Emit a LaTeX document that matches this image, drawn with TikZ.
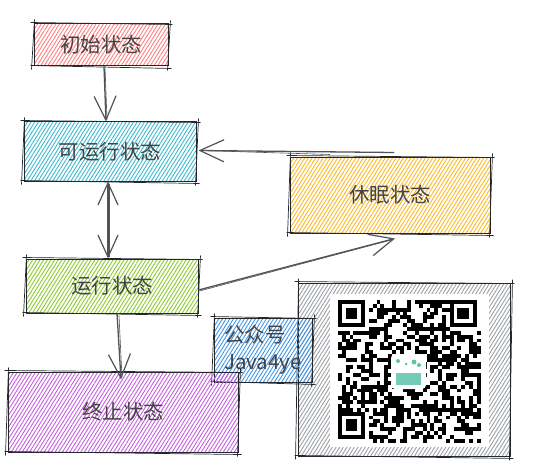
\documentclass[tikz,border=0pt]{standalone}
\usepackage{fontspec}
\setmainfont{Noto Sans CJK SC}
\usetikzlibrary{patterns.meta,arrows.meta}
\definecolor{edgec}{HTML}{24282C}
\definecolor{arrc}{HTML}{505458}
\definecolor{txtc}{HTML}{444444}
\definecolor{pinkh}{HTML}{FF8080}
\definecolor{cyanh}{HTML}{3CB9CF}
\definecolor{yellowh}{HTML}{FBB921}
\definecolor{greenh}{HTML}{8CCB2C}
\definecolor{purpleh}{HTML}{C65EE0}
\definecolor{blueh}{HTML}{3F97EA}
\definecolor{grayh}{HTML}{9CA1A7}
\definecolor{tealc}{HTML}{3BB39A}
\newcommand\roughbox[1]{%
  \draw[roughline] ([shift={(-3,-1)}]#1.north west) -- ([shift={(4,1)}]#1.north east);
  \draw[roughline] ([shift={(2,-3)}]#1.north east) -- ([shift={(-1,4)}]#1.south east);
  \draw[roughline] ([shift={(3,2)}]#1.south east) -- ([shift={(-3,-1)}]#1.south west);
  \draw[roughline] ([shift={(-2,3)}]#1.south west) -- ([shift={(1,-4)}]#1.north west);
}
\begin{document}
\begin{tikzpicture}[x=1pt,y=-1pt,
  sbox/.style={draw=edgec, line width=1pt, rectangle, inner sep=0pt,
    font=\fontsize{20.5}{27}\selectfont, text=txtc},
  hatch/.style={pattern={Lines[angle=58,distance=3.1pt,line width=0.9pt]}, pattern color=#1},
  roughline/.style={draw=edgec, line width=0.7pt},
  arr/.style={draw=arrc, line width=1.3pt, -{Straight Barb[length=24pt,width=22pt,line width=1.2pt]}},
  arrboth/.style={draw=arrc, line width=1.3pt, {Straight Barb[length=22pt,width=20pt,line width=1.2pt]}-{Straight Barb[length=22pt,width=20pt,line width=1.2pt]}}
]
\useasboundingbox[fill=white] (0,0) rectangle (538,476);

% QR frame
\node[sbox, hatch=grayh, minimum width=212pt, minimum height=173pt] (qr) at (404,369.5) {};
\roughbox{qr}
\fill[white] (330,294) rectangle (489,447);
\pgfmathsetseed{11}
\foreach \i in {0,...,36}{\foreach \j in {0,...,36}{%
  \pgfmathtruncatemacro\fz{(\i<8)*(\j<8)+(\i>28)*(\j<8)+(\i<8)*(\j>28)}%
  \pgfmathtruncatemacro\q{rnd<0.5}%
  \ifnum\fz=0 \ifnum\q=1 \fill[black] (338+\i*3.85,300+\j*3.85) rectangle ++(3.9,3.9);\fi\fi
}}
\foreach \ox/\oy in {338/300, 449.65/300, 338/411.65}{
  \fill[black] (\ox,\oy) rectangle ++(26.95,26.95);
  \fill[white] (\ox+3.85,\oy+3.85) rectangle ++(19.25,19.25);
  \fill[black] (\ox+7.7,\oy+7.7) rectangle ++(11.55,11.55);
}
\fill[white, rounded corners=4pt] (391,354) rectangle (426,389);
\fill[tealc!70] (396,373) rectangle (421,385);
\fill[tealc!80] (398,361) circle (2pt);
\fill[tealc!80] (406,364) circle (1.5pt);
\fill[tealc!80] (414,362) circle (2.5pt);
\fill[tealc!80] (419,365) circle (2pt);

% nodes
\node[sbox, hatch=pinkh, minimum width=134pt, minimum height=42pt] (init) at (101,45) {初始状态};
\roughbox{init}
\node[sbox, hatch=cyanh, minimum width=172pt, minimum height=59pt] (runnable) at (110,151.5) {可运行状态};
\roughbox{runnable}
\node[sbox, hatch=yellowh, minimum width=200pt, minimum height=76pt] (sleep) at (390,195) {休眠状态};
\roughbox{sleep}
\node[sbox, hatch=greenh, minimum width=172pt, minimum height=54pt] (run) at (112,286) {运行状态};
\roughbox{run}
\node[sbox, hatch=blueh, minimum width=98pt, minimum height=64pt, align=left] (gzh) at (263,350) {公众号\\Java4ye};
\roughbox{gzh}
\node[sbox, hatch=purpleh, minimum width=230pt, minimum height=80pt] (term) at (123,412) {终止状态};
\roughbox{term}

% connectors
\draw[arr] ([shift={(3,0)}]init.south) -- ([shift={(-4,0)}]runnable.north);
\draw[arrc, line width=0.6pt] ([shift={(4,0)}]init.south) -- ([shift={(-3,-2)}]runnable.north);
\draw[arrboth] ([shift={(-2,0)}]runnable.south) -- ([shift={(-4,0)}]run.north);
\draw[arrc, line width=0.6pt] ([shift={(-1,2)}]runnable.south) -- ([shift={(-3,-2)}]run.north);
\draw[arr] ([shift={(4,-4)}]sleep.north) -- ([shift={(2,-1)}]runnable.east);
\draw[arrc, line width=0.6pt] ([shift={(-60,-2)}]sleep.north) -- ([shift={(4,-1)}]runnable.east);
\draw[arr] ([shift={(0,4)}]run.east) -- ([shift={(5,5)}]sleep.south);
\draw[arrc, line width=0.6pt] ([shift={(1,5)}]run.east) -- ([shift={(3,6)}]sleep.south);
\draw[arr] ([shift={(5,0)}]run.south) -- ([shift={(-2,8)}]term.north);
\draw[arrc, line width=0.6pt] ([shift={(7,2)}]run.south) -- ([shift={(-1,6)}]term.north);
\end{tikzpicture}
\end{document}
